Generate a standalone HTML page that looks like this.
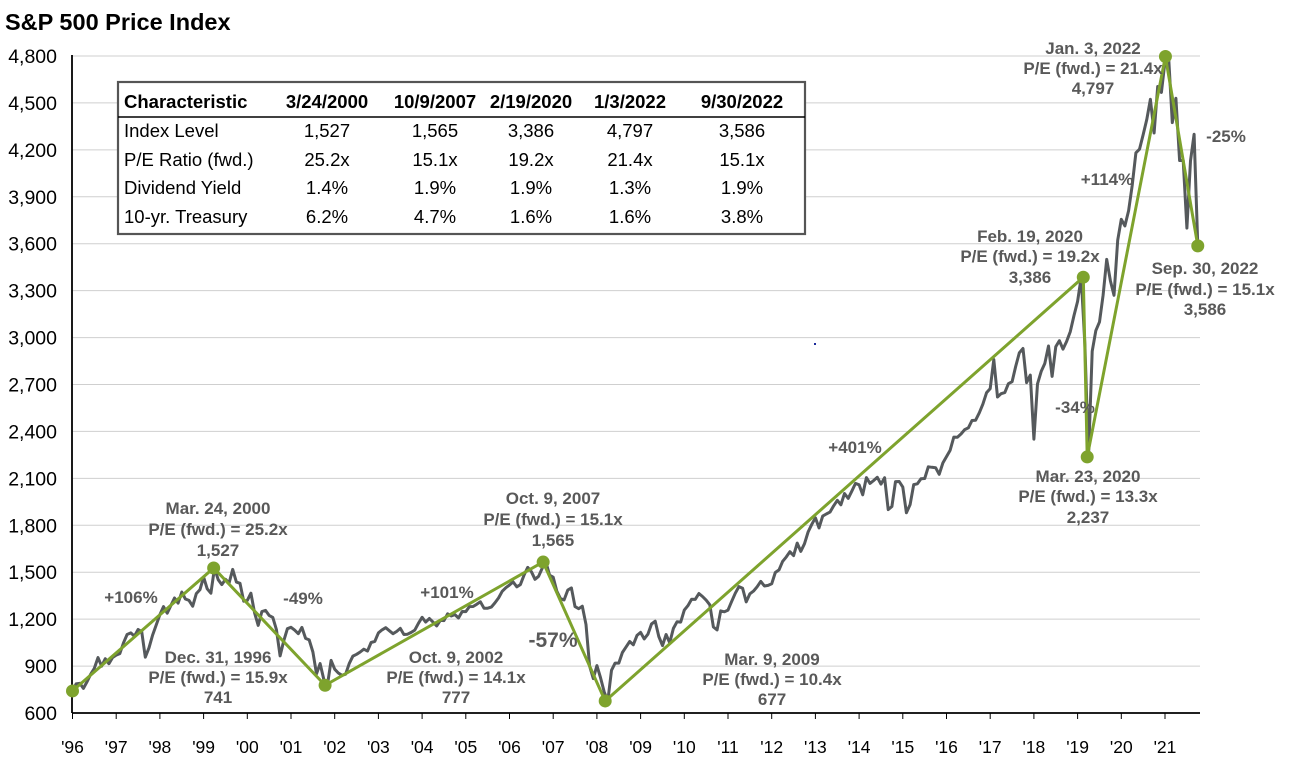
<!DOCTYPE html>
<html><head><meta charset="utf-8"><style>
html,body{margin:0;padding:0;background:#fff;}
body{width:1298px;height:762px;overflow:hidden;font-family:"Liberation Sans",Arial,sans-serif;}
svg{position:absolute;left:0;top:0;}
</style></head><body>
<svg id="chart" width="1298" height="762"></svg>
<script>
const yTicks=[600,900,1200,1500,1800,2100,2400,2700,3000,3300,3600,3900,4200,4500,4800];
const xTickLabels=["'96","'97","'98","'99","'00","'01","'02","'03","'04","'05","'06","'07","'08","'09","'10","'11","'12","'13","'14","'15","'16","'17","'18","'19","'20","'21"];
// monthly S&P 500 closes starting Dec 1996
const priceMonthly=[741,
786,790,757,801,848,885,954,899,947,915,955,970,
980,1049,1102,1112,1091,1134,1121,957,1017,1098,1164,1229,
1280,1238,1286,1335,1302,1373,1329,1320,1283,1363,1389,1469,
1394,1366,1527,1452,1421,1455,1431,1518,1437,1429,1315,1320,
1366,1240,1160,1249,1256,1224,1211,1134,965,1060,1139,1148,
1130,1107,1147,1077,1067,990,850,916,815,777,936,880,
856,841,848,917,964,975,990,1008,996,1051,1058,1112,
1131,1145,1126,1107,1121,1141,1102,1104,1115,1130,1174,1212,
1181,1204,1181,1157,1192,1191,1234,1220,1229,1207,1249,1248,
1280,1281,1295,1311,1270,1270,1277,1304,1336,1378,1401,1418,
1438,1407,1421,1482,1531,1503,1455,1474,1527,1565,1481,1468,
1379,1331,1323,1386,1400,1280,1267,1283,1166,900,820,903,
826,735,677,873,919,919,987,1021,1057,1036,1096,1115,
1074,1104,1169,1187,1089,1031,1102,1049,1141,1183,1181,1258,
1286,1327,1326,1364,1345,1321,1292,1150,1131,1253,1247,1258,
1312,1366,1408,1398,1310,1362,1379,1407,1441,1412,1416,1426,
1498,1515,1569,1598,1631,1606,1686,1633,1682,1757,1806,1848,
1783,1859,1872,1884,1924,1960,1931,2003,1972,2018,2068,2059,
1995,2105,2068,2086,2107,2063,2104,1900,1920,2079,2080,2044,
1880,1932,2060,2065,2097,2099,2174,2171,2168,2126,2199,2239,
2279,2364,2363,2384,2412,2423,2470,2472,2519,2575,2648,2674,
2860,2620,2641,2648,2705,2718,2816,2902,2930,2712,2760,2351,
2704,2784,2834,2946,2752,2942,2980,2926,2977,3038,3141,3231,
3386,2954,2237,2912,3044,3100,3271,3500,3363,3270,3622,3756,
3714,3811,3973,4181,4204,4298,4395,4523,4308,4605,4567,4766,
4797,4374,4530,4132,4132,3700,4130,4300,3586];
const keyDates=[0,3.23,5.78,10.77,12.19,23.13,23.22,25.01,25.75];
const keyValues=[741,1527,777,1565,677,3386,2237,4797,3586];
const changeLabels=["+106%","-49%","+101%","-57%","+401%","-34%","+114%","-25%"];

const X0=72.5,XS=43.7,Y0=713,YS=657/4200;
const xs=t=>X0+t*XS, ys=v=>Y0-(v-600)*YS;
const NS="http://www.w3.org/2000/svg";
const svg=document.getElementById('chart');
function mk(tag,attrs,parent){const e=document.createElementNS(NS,tag);for(const k in attrs)e.setAttribute(k,attrs[k]);(parent||svg).appendChild(e);return e;}
function txt(x,y,s,attrs){const e=mk('text',Object.assign({x:x,y:y},attrs||{}));e.textContent=s;return e;}

const title=txt(5,30,"S&P 500 Price Index",{'font-size':23.5,'font-weight':'bold',fill:'#000'});



yTicks.forEach(v=>{
  if(v>600){const g=mk('line',{x1:72,x2:1200,y1:ys(v),y2:ys(v),stroke:'#cfcfcf','stroke-width':1});
  
  }
  const t=txt(57,ys(v)+7,v.toLocaleString('en-US'),{'font-size':19.5,'text-anchor':'end',fill:'#000'});
  
  
});
const ya=mk('line',{x1:72,x2:72,y1:55,y2:713,stroke:'#000','stroke-width':1.8});


const xa=mk('line',{x1:72,x2:1200,y1:713,y2:713,stroke:'#000','stroke-width':1.8});


xTickLabels.forEach((s,i)=>{
  const x=xs(i);
  const tk=mk('line',{x1:x,x2:x,y1:713,y2:719,stroke:'#000','stroke-width':1});
  
  
  const t=txt(x,753,s,{'font-size':17.5,'text-anchor':'middle',fill:'#000'});
  
  
});

let d='';
priceMonthly.forEach((v,i)=>{d+=(i?'L':'M')+xs(i/12).toFixed(1)+','+ys(v).toFixed(1);});
const pl=mk('path',{d:d,fill:'none',stroke:'#55595c','stroke-width':3,'stroke-linejoin':'round'});



let d2='';
keyDates.forEach((t,i)=>{d2+=(i?'L':'M')+xs(t).toFixed(1)+','+ys(keyValues[i]).toFixed(1);});
const kl=mk('path',{d:d2,fill:'none',stroke:'#7ea32d','stroke-width':3});


keyDates.forEach((t,i)=>{
  const c=mk('circle',{cx:xs(t),cy:ys(keyValues[i]),r:6.5,fill:'#7ea32d'});
  
  
});
const bd=mk('rect',{x:814,y:343,width:2,height:2,fill:'#1a2a9a'});



const ann=[
 [218,[514,535,556],["Mar. 24, 2000","P/E (fwd.) = 25.2x","1,527"]],
 [218,[663,683,703],["Dec. 31, 1996","P/E (fwd.) = 15.9x","741"]],
 [553,[504,525,546],["Oct. 9, 2007","P/E (fwd.) = 15.1x","1,565"]],
 [456,[663,683,703],["Oct. 9, 2002","P/E (fwd.) = 14.1x","777"]],
 [772,[665,685,705],["Mar. 9, 2009","P/E (fwd.) = 10.4x","677"]],
 [1088,[482,502,523],["Mar. 23, 2020","P/E (fwd.) = 13.3x","2,237"]],
 [1030,[242,262,283],["Feb. 19, 2020","P/E (fwd.) = 19.2x","3,386"]],
 [1093,[54,74,94],["Jan. 3, 2022","P/E (fwd.) = 21.4x","4,797"]],
 [1205,[274,295,315],["Sep. 30, 2022","P/E (fwd.) = 15.1x","3,586"]]
];
ann.forEach(a=>{a[2].forEach((s,j)=>{
  const t=txt(a[0],a[1][j],s,{'font-size':17,'font-weight':'bold','text-anchor':'middle',fill:'#595959'});
  
  
});});
const chgPos=[[131,603,17],[303,604,17],[447,598,17],[553,647,21],[855,453,17],[1075,413,17],[1107,185,17],[1226,142,17]];
changeLabels.forEach((s,i)=>{
  const p=chgPos[i];
  const t=txt(p[0],p[1],s,{'font-size':p[2],'font-weight':'bold','text-anchor':'middle',fill:'#595959'});
  
  
});

const tg=mk('g',{});


mk('rect',{x:118,y:82,width:687,height:152,fill:'#fff',stroke:'#555','stroke-width':2.2},tg);
mk('line',{x1:118,x2:805,y1:117,y2:117,stroke:'#000','stroke-width':1.5},tg);
const cols=[124,327,435,531,630,742];
const rows=[["Characteristic","3/24/2000","10/9/2007","2/19/2020","1/3/2022","9/30/2022"],
 ["Index Level","1,527","1,565","3,386","4,797","3,586"],
 ["P/E Ratio (fwd.)","25.2x","15.1x","19.2x","21.4x","15.1x"],
 ["Dividend Yield","1.4%","1.9%","1.9%","1.3%","1.9%"],
 ["10-yr. Treasury","6.2%","4.7%","1.6%","1.6%","3.8%"]];
const rowY=[108,137,166,194,223];
rows.forEach((r,i)=>r.forEach((s,j)=>{
  const t=txt(cols[j],rowY[i],s,{'font-size':i==0?18.5:18.5,'font-weight':i==0?'bold':'normal','text-anchor':j==0?'start':'middle',fill:'#000'});
  tg.appendChild(t);
  
  
}));
</script>
</body></html>
